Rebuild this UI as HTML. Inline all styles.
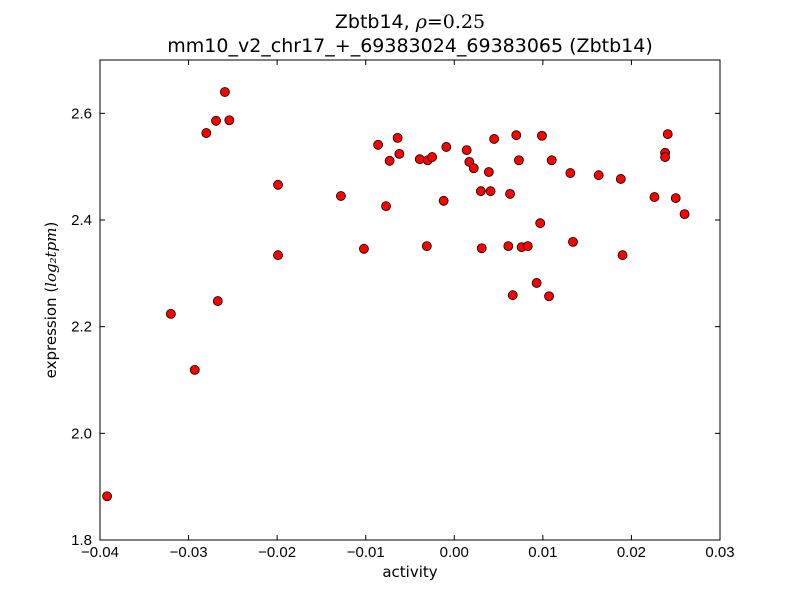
<!DOCTYPE html>
<html><head><meta charset="utf-8"><style>
body{margin:0;background:#fff}
svg text{font-family:"Liberation Sans","DejaVu Sans",sans-serif;fill:#000}
svg text.dv{font-family:"DejaVu Sans","Liberation Sans",sans-serif}
</style></head><body>
<svg id="chart" width="800" height="600" viewBox="0 0 800 600" xmlns="http://www.w3.org/2000/svg">
<rect width="800" height="600" fill="#fff"/>
<text class="dv" x="410" y="28" font-size="19" text-anchor="middle">Zbtb14, <tspan font-style="italic" font-family="DejaVu Serif,serif">ρ</tspan><tspan font-family="DejaVu Serif,serif">=0.25</tspan></text>
<text class="dv" x="410" y="52" font-size="19" text-anchor="middle">mm10_v2_chr17_+_69383024_69383065 (Zbtb14)</text>
<g id="ticks"></g>
<g id="pts"></g>
<rect x="100" y="60" width="620" height="480" fill="none" stroke="#000" stroke-width="1"/>
<text class="dv" x="410" y="577" font-size="15" text-anchor="middle">activity</text>
<text class="dv" transform="translate(56,300) rotate(-90)" font-size="15" text-anchor="middle">expression (<tspan font-style="italic" font-family="DejaVu Serif,serif">log₂tpm</tspan>)</text>
</svg>
<script>
const xVals=[-0.0392,-0.032,-0.0293,-0.028,-0.0269,-0.0267,-0.0259,-0.0254,-0.0199,-0.0199,-0.0128,-0.0102,-0.0086,-0.0077,-0.0073,-0.0064,-0.0062,-0.0039,-0.0031,-0.003,-0.0025,-0.0012,-0.0009,0.0014,0.0017,0.0022,0.003,0.0031,0.0039,0.0041,0.0045,0.0061,0.0063,0.0066,0.007,0.0073,0.0076,0.0083,0.0093,0.0097,0.0099,0.0107,0.011,0.0131,0.0134,0.0163,0.0188,0.019,0.0226,0.0238,0.0238,0.0241,0.025,0.026];
const yVals=[1.882,2.224,2.119,2.563,2.586,2.248,2.640,2.587,2.466,2.334,2.445,2.346,2.541,2.426,2.511,2.554,2.524,2.514,2.351,2.512,2.518,2.436,2.537,2.531,2.509,2.497,2.454,2.347,2.490,2.454,2.552,2.351,2.449,2.259,2.559,2.512,2.349,2.351,2.282,2.394,2.558,2.257,2.512,2.488,2.359,2.484,2.477,2.334,2.443,2.526,2.518,2.561,2.441,2.411];
const xTicks=[-0.04,-0.03,-0.02,-0.01,0,0.01,0.02,0.03];
const xTickLabels=["−0.04","−0.03","−0.02","−0.01","0.00","0.01","0.02","0.03"];
const yTicks=[1.8,2.0,2.2,2.4,2.6];
const yTickLabels=["1.8","2.0","2.2","2.4","2.6"];
const X0=100,X1=720,Y0=540,Y1=60,xmin=-0.04,xmax=0.03,ymin=1.8,ymax=2.7;
const sx=v=>X0+(v-xmin)/(xmax-xmin)*(X1-X0);
const sy=v=>Y0-(v-ymin)/(ymax-ymin)*(Y0-Y1);
const NS="http://www.w3.org/2000/svg";
const tg=document.getElementById('ticks'),pg=document.getElementById('pts');
function mk(t,a){const e=document.createElementNS(NS,t);for(const k in a)e.setAttribute(k,a[k]);return e;}
xTicks.forEach((v,i)=>{const x=sx(v);
 const l1=mk('line',{x1:x,x2:x,y1:Y0,y2:Y0-5,stroke:'#000'});tg.appendChild(l1);
 const l2=mk('line',{x1:x,x2:x,y1:Y1,y2:Y1+5,stroke:'#000'});tg.appendChild(l2);
 const t=mk('text',{x:x,y:557,'font-size':15,'text-anchor':'middle'});t.textContent=xTickLabels[i];tg.appendChild(t);});
yTicks.forEach((v,i)=>{const y=sy(v);
 const l1=mk('line',{x1:X0,x2:X0+5,y1:y,y2:y,stroke:'#000'});tg.appendChild(l1);
 const l2=mk('line',{x1:X1,x2:X1-5,y1:y,y2:y,stroke:'#000'});tg.appendChild(l2);
 const t=mk('text',{x:X0-8,y:y+5,'font-size':15,'text-anchor':'end'});t.textContent=yTickLabels[i];tg.appendChild(t);});
xVals.forEach((v,i)=>{const c=mk('circle',{cx:sx(v),cy:sy(yVals[i]),r:4.5,fill:'#ff0000',stroke:'#000','stroke-width':0.8});
 
 
 pg.appendChild(c);});
</script>
</body></html>
